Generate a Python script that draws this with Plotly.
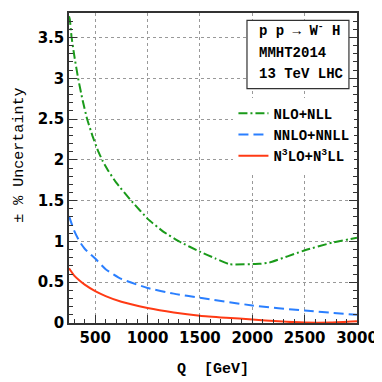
import plotly.graph_objects as go

q_nlo = [250, 258, 274, 300, 337, 380, 423, 475, 527, 574, 628, 701, 850, 1007, 1150, 1308, 1498, 1650, 1782, 2067, 2162, 2510, 2762, 3000]
u_nlo = [3.76, 3.72, 3.51, 3.28, 3.0, 2.73, 2.5, 2.29, 2.11, 1.98, 1.86, 1.72, 1.49, 1.27, 1.12, 0.996, 0.875, 0.79, 0.72, 0.725, 0.74, 0.895, 0.985, 1.045]

q_nnlo = [250, 300, 350, 400, 500, 600, 750, 1000, 1250, 1500, 2000, 2500, 3000]
u_nnlo = [1.31, 1.13, 1.0, 0.91, 0.79, 0.66, 0.54, 0.43, 0.36, 0.31, 0.215, 0.152, 0.10]

q_n3lo = [250, 300, 350, 400, 500, 600, 750, 1000, 1250, 1500, 1750, 2000, 2250, 2500, 2750, 3000]
u_n3lo = [0.67, 0.58, 0.52, 0.47, 0.39, 0.33, 0.26, 0.185, 0.13, 0.09, 0.065, 0.043, 0.02, 0.005, 0.005, 0.02]

series_names = ["NLO+NLL", "NNLO+NNLL", "N<sup>3</sup>LO+N<sup>3</sup>LL"]
box_lines = ["p p \u2192 W<sup>-</sup> H", "MMHT2014", "13 TeV LHC"]

mono = "Liberation Mono"
sans = "DejaVu Sans"

fig = go.Figure()
fig.add_trace(go.Scatter(x=q_nlo, y=u_nlo, mode="lines", name=series_names[0],
                         line=dict(color="#1a9a1a", width=2, dash="9px,3px,2px,3px", shape="spline", smoothing=0.3)))
fig.add_trace(go.Scatter(x=q_nnlo, y=u_nnlo, mode="lines", name=series_names[1],
                         line=dict(color="#2a7fff", width=2, dash="10px,5px", shape="spline", smoothing=0.5)))
fig.add_trace(go.Scatter(x=q_n3lo, y=u_n3lo, mode="lines", name=series_names[2],
                         line=dict(color="#ff3a14", width=2, shape="spline", smoothing=0.5)))

# Page body has an 8px default margin, so the figure is 374x374 placed at (8,8)
fig.update_layout(
    width=374, height=374,
    margin=dict(l=60.5, r=23, t=3.7, b=58.5),
    paper_bgcolor="white", plot_bgcolor="white",
    showlegend=True,
    legend=dict(x=0.571, y=0.727, xanchor="left", yanchor="top",
                bgcolor="white", borderwidth=0,
                font=dict(family=mono, size=14, color="black", weight="bold"),
                tracegroupgap=0, itemwidth=30),
    xaxis=dict(range=[250, 3000], dtick=500, tick0=0, ticks="inside", ticklen=8,
               tickcolor="#333", showline=True, linecolor="#333", linewidth=1.5, mirror=True,
               showgrid=True, gridcolor="#999", griddash="dot", gridwidth=1, zeroline=False,
               tickfont=dict(family=sans, size=15, color="black", weight="bold"),
               minor=dict(dtick=100, ticks="inside", ticklen=4, tickcolor="#333", showgrid=False)),
    yaxis=dict(range=[0, 3.8], dtick=0.5, tick0=0, ticks="inside", ticklen=8,
               tickcolor="#333", showline=True, linecolor="#333", linewidth=1.5, mirror="allticks",
               showgrid=True, gridcolor="#999", griddash="dot", gridwidth=1, zeroline=False,
               tickfont=dict(family=sans, size=15, color="black", weight="bold"),
               minor=dict(dtick=0.1, ticks="inside", ticklen=4, tickcolor="#333", showgrid=False)),
)

# axis titles
fig.add_annotation(text="<b>Q  [GeV]</b>", xref="paper", yref="paper", x=0.5, y=-0.149,
                   xanchor="center", yanchor="middle", showarrow=False,
                   font=dict(family=mono, size=15, color="black"))
fig.add_annotation(text="\u00b1 % Uncertainty", xref="paper", yref="paper", x=-0.17, y=0.54,
                   xanchor="center", yanchor="middle", showarrow=False, textangle=-90,
                   font=dict(family=mono, size=15, color="black"))

# info box
fig.add_shape(type="rect", xref="paper", yref="paper", x0=0.618, x1=0.972, y0=0.756, y1=0.976,
              line=dict(color="#333", width=1.2), fillcolor="white", layer="above")
box_y = [0.944, 0.870, 0.803]
for t, yy in zip(box_lines, box_y):
    fig.add_annotation(text="<b>" + t + "</b>", xref="paper", yref="paper", x=0.653,
                       y=yy, xanchor="left", yanchor="middle", showarrow=False,
                       font=dict(family=mono, size=14, color="black"))

fig.write_html("out.html")
